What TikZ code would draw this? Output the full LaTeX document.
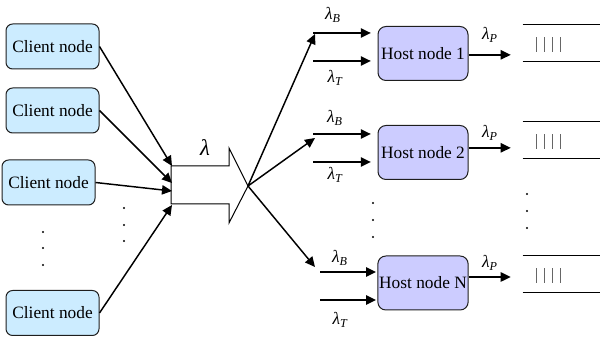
\documentclass[tikz,border=0pt]{standalone}
\usepackage{fontspec}
\setmainfont{Liberation Serif}
\usetikzlibrary{positioning, calc, arrows.meta}
\definecolor{clientfill}{RGB}{204, 236, 255}
\definecolor{hostfill}{RGB}{204, 204, 255}
\definecolor{edge}{RGB}{30, 30, 30}
\newcommand{\rate}[1]{\textit{λ\textsubscript{#1}}}

\begin{document}
\begin{tikzpicture}[x=0.75pt, y=-0.75pt, every node/.style={font=\fontsize{13}{15}\selectfont}]
    \tikzstyle{client} = [draw=edge, rectangle, fill=clientfill, minimum width=69.75pt, minimum height=33.75pt, rounded corners=5pt, line width=0.75pt]
    \tikzstyle{host} = [draw=edge, rectangle, fill=hostfill, minimum width=67.5pt, minimum height=40.5pt, inner sep=1pt, rounded corners=6pt, line width=0.75pt]
    \tikzstyle{queue} = [rectangle, minimum width=57.75pt, minimum height=27pt, inner sep=0pt]
    \tikzstyle{arrow} = [line width=1.1pt, -{Triangle[length=7.5pt, width=7pt]}]
    \tikzstyle{dot} = [circle, fill=black, inner sep=0pt, minimum size=1.8pt]

    \useasboundingbox (0,0) rectangle (607,341);

    % Nodes
    \node (c1) [client] at (52.5,46.5) {Client node};
    \node (c2) [client] at (52.5,110.5) {Client node};
    \node (c3) [client] at (48.5,182.5) {Client node};
    \node (c4) [client] at (52.5,313) {Client node};

    \node (h1) [host] at (423,53.5) {Host node 1};
    \node (h2) [host] at (423,152.5) {Host node 2};
    \node (hN) [host] at (423,283) {Host node N};

    \node (q1) [queue] at (561.5,43) {};
    \node (q2) [queue] at (561.5,140) {};
    \node (qN) [queue] at (561.5,274) {};

    % Big arrow
    \coordinate (tip) at (248,186);
    \draw[line width=0.75pt, fill=white] (171,166) -- (229,166) -- (229,148) -- (tip) -- (229,223) -- (229,204) -- (171,204) -- cycle;
    \coordinate (in1) at (172,166);
    \coordinate (in2) at (172,183);
    \coordinate (in3) at (172,191);
    \coordinate (in4) at (172,205);

    \coordinate (d1) at (315,34);
    \coordinate (d2) at (315,138);
    \coordinate (dN) at (315,267);
    \coordinate (b1) at (313,33);
    \coordinate (t1) at (313,61);
    \coordinate (b2) at (313,134);
    \coordinate (t2) at (313,162);
    \coordinate (bN) at (320,272);
    \coordinate (tN) at (320,300);

    % Labels
    \node (lam) at (205,148) [font=\fontsize{17}{19}\selectfont] {\textit{λ}};
    \node (lb1) at (333,15) {\rate{B}};
    \node (lt1) at (335,78) {\rate{T}};
    \node (lb2) at (335,118) {\rate{B}};
    \node (lt2) at (335,175) {\rate{T}};
    \node (lbN) at (340,258) {\rate{B}};
    \node (ltN) at (340,320) {\rate{T}};
    \node (lp1) at (490,35) {\rate{P}};
    \node (lp2) at (490,133) {\rate{P}};
    \node (lpN) at (490,263) {\rate{P}};

    % Dots
    \foreach \y [count=\i] in {232,248,265} \node (ldot\i) [dot] at (43,\y) {};
    \foreach \y [count=\i] in {208,225,241} \node (mdot\i) [dot] at (124,\y) {};
    \foreach \y [count=\i] in {203,220,237} \node (hdot\i) [dot] at (373,\y) {};
    \foreach \y [count=\i] in {194,211,228} \node (qdot\i) [dot] at (527,\y) {};

    % Arrows
    \draw [arrow] (c1.east) -- (in1);
    \draw [arrow] (c2.east) -- (in2);
    \draw [arrow] (c3.east) -- (in3);
    \draw [arrow] (c4.east) -- (in4);

    \draw [arrow] (tip) -- (d1);
    \draw [arrow] (tip) -- (d2);
    \draw [arrow] (tip) -- (dN);

    \draw [arrow, shorten >=5pt] (b1) -- (b1 -| h1.west);
    \draw [arrow, shorten >=5pt] (t1) -- (t1 -| h1.west);
    \draw [arrow, shorten >=5pt] (b2) -- (b2 -| h2.west);
    \draw [arrow, shorten >=5pt] (t2) -- (t2 -| h2.west);
    \draw [arrow, shorten >=1pt] (bN) -- (bN -| hN.west);
    \draw [arrow, shorten >=1pt] (tN) -- (tN -| hN.west);

    \draw [arrow, shorten >=9pt] ([yshift=-1pt]h1.east) -- ([yshift=-1pt]h1.east -| q1.west);
    \draw [arrow, shorten >=9pt] ([yshift=3.5pt]h2.east) -- ([yshift=3.5pt]h2.east -| q2.west);
    \draw [arrow, shorten >=9pt] ([yshift=4.5pt]hN.east) -- ([yshift=4.5pt]hN.east -| qN.west);

    % Queues
    \foreach \q in {q1,q2,qN} {
        \draw [line width=0.75pt] (\q.north west) -- (\q.north east) (\q.south west) -- (\q.south east);
        \foreach \i in {0,...,3}
            \draw [line width=0.9pt, black!60] ([xshift=10.5pt+\i*6pt, yshift=-1.5pt]\q.west) ++(0,-7.5) -- ++(0,15);
    }
\end{tikzpicture}
\end{document}
